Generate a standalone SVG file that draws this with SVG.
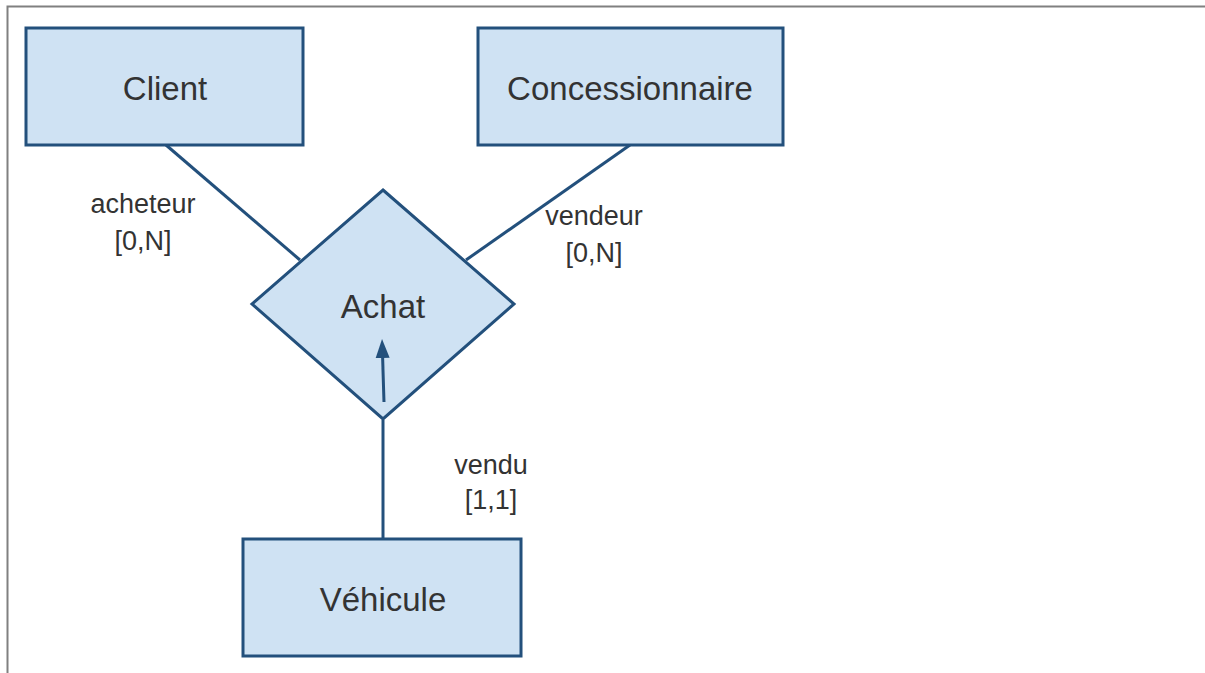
<svg xmlns="http://www.w3.org/2000/svg" width="1205" height="673" viewBox="0 0 1205 673">
<style>
.node{fill:#cfe2f3;stroke:#23507c;stroke-width:3}
.lbl{font-family:"Liberation Sans",Arial,sans-serif;font-size:33px;fill:#333;text-anchor:middle}
.sm{font-family:"Liberation Sans",Arial,sans-serif;font-size:27px;fill:#333;text-anchor:middle}
.conn{stroke:#23507c;stroke-width:3;fill:none}
</style>
<defs>
<marker id="ah" markerWidth="20" markerHeight="16" refX="1" refY="8" orient="auto" markerUnits="userSpaceOnUse">
<path d="M0,1 L19,8 L0,15 z" fill="#23507c"/>
</marker>
</defs>
<rect x="0" y="0" width="1205" height="673" fill="#fff"/>
<path d="M7.5,673 V6.5 H1205" fill="none" stroke="#808080" stroke-width="2"/>
<g id="connectors">
<line class="conn" x1="166" y1="145" x2="300" y2="260"/>
<line class="conn" x1="630" y1="145" x2="466" y2="260"/>
<line class="conn" x1="383" y1="420" x2="383" y2="539"/>
</g>
<g id="client">
<rect class="node" x="26" y="28" width="277" height="117"/>
<text class="lbl" x="165" y="100">Client</text>
</g>
<g id="concessionnaire">
<rect class="node" x="478" y="28" width="305" height="117"/>
<text class="lbl" x="630" y="100">Concessionnaire</text>
</g>
<g id="achat">
<polygon class="node" points="383,190 514,304 383,419 252,304"/>
<text class="lbl" x="383" y="318">Achat</text>
</g>
<g id="vehicule">
<rect class="node" x="243" y="539" width="278" height="117"/>
<text class="lbl" x="383" y="611">Véhicule</text>
</g>
<g id="arrow">
<line class="conn" x1="384" y1="402" x2="382.6" y2="357" marker-end="url(#ah)"/>
</g>
<g id="labels">
<text class="sm" x="143" y="213">acheteur</text>
<text class="sm" x="143" y="250">[0,N]</text>
<text class="sm" x="594" y="225">vendeur</text>
<text class="sm" x="594" y="262">[0,N]</text>
<text class="sm" x="491" y="474">vendu</text>
<text class="sm" x="491" y="509">[1,1]</text>
</g>
</svg>
